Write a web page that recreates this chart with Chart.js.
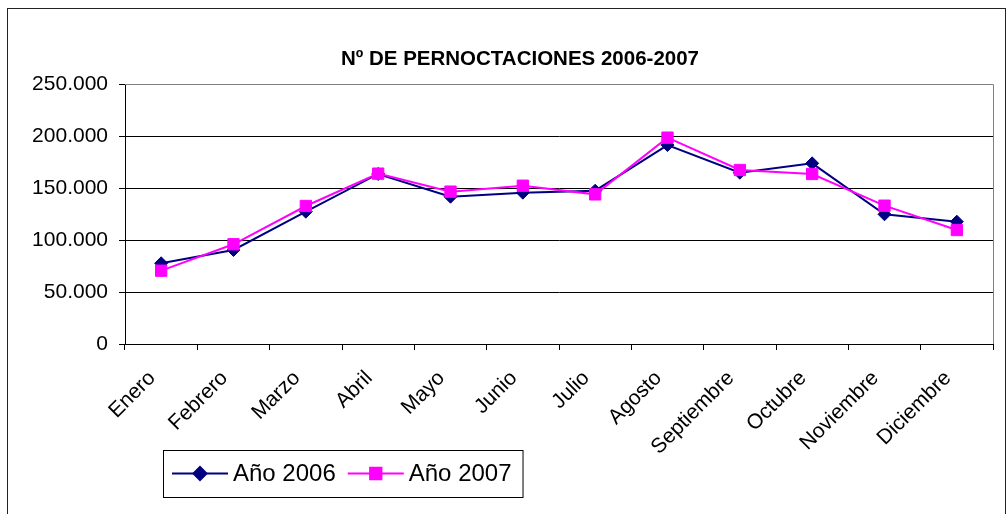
<!DOCTYPE html>
<html>
<head>
<meta charset="utf-8">
<script src="https://cdn.jsdelivr.net/npm/chart.js@4/dist/chart.umd.min.js"></script>
<style>
  html, body { margin: 0; padding: 0; width: 1006px; height: 514px; overflow: hidden; background: #fff; }
  .frame { position: absolute; left: 7px; top: 8px; width: 997px; height: 600px; border: 1px solid #222; }
  .wrap { position: absolute; left: 0; top: 0; width: 1006px; height: 514px; }
</style>
</head>
<body>
<div class="frame"></div>
<div class="wrap"><canvas id="chart" width="1006" height="514"></canvas></div>
<script>
const months = ["Enero", "Febrero", "Marzo", "Abril", "Mayo", "Junio", "Julio", "Agosto", "Septiembre", "Octubre", "Noviembre", "Diciembre"];
const ano2006 = [77600, 90400, 127200, 163500, 141600, 145500, 147400, 191300, 164700, 173700, 124700, 117600];
const ano2007 = [70500, 95900, 132700, 163800, 146500, 152200, 143900, 198400, 167300, 163500, 133000, 109600];
const titleText = "Nº DE PERNOCTACIONES 2006-2007";
const FONT = "'Liberation Sans', Arial, sans-serif";

function fmt(v) {
  return String(v).replace(/\B(?=(\d{3})+(?!\d))/g, ".");
}

// title sits a bit left of the plot centre in the original
const titleShift = {
  id: "titleShift",
  afterLayout(chart) {
    const t = chart.titleBlock;
    t.left = 34;
    t.right = 1006;
    t.width = t.right - t.left;
  }
};

// gray frame on the top and right of the plot area
const plotFrame = {
  id: "plotFrame",
  beforeDatasetsDraw(chart) {
    const a = chart.chartArea;
    const ctx = chart.ctx;
    ctx.save();
    ctx.strokeStyle = "#808080";
    ctx.lineWidth = 1;
    ctx.beginPath();
    ctx.moveTo(a.left, Math.round(a.top) + 0.5);
    ctx.lineTo(Math.round(a.right) + 0.5, Math.round(a.top) + 0.5);
    ctx.lineTo(Math.round(a.right) + 0.5, a.bottom);
    ctx.stroke();
    ctx.restore();
  }
};

// boxed legend with line + marker samples
const boxLegend = {
  id: "boxLegend",
  afterDraw(chart) {
    const ctx = chart.ctx;
    const left = 163, top = 450, h = 47;
    const cy = top + h / 2;
    ctx.save();
    ctx.font = "24px " + FONT;
    ctx.textBaseline = "middle";
    let x = left + 9;
    chart.data.datasets.forEach((ds) => {
      ctx.strokeStyle = ds.borderColor;
      ctx.lineWidth = 2;
      ctx.beginPath();
      ctx.moveTo(x, cy);
      ctx.lineTo(x + 56, cy);
      ctx.stroke();
      ctx.fillStyle = ds.pointBackgroundColor;
      ctx.strokeStyle = ds.pointBorderColor;
      Chart.helpers.drawPoint(ctx, { pointStyle: ds.pointStyle, radius: ds.pointRadius, rotation: 0, borderWidth: 1 }, x + 28, cy);
      x += 61;
      ctx.fillStyle = "#000";
      ctx.fillText(ds.label, x, cy + 1);
      x += ctx.measureText(ds.label).width + 12;
    });
    ctx.strokeStyle = "#000";
    ctx.lineWidth = 1;
    ctx.strokeRect(left + 0.5, top + 0.5, x - left - 1, h);
    ctx.restore();
  }
};

new Chart(document.getElementById("chart"), {
  type: "line",
  data: {
    labels: months,
    datasets: [
      {
        label: "Año 2006",
        data: ano2006,
        borderColor: "#000080",
        backgroundColor: "#000080",
        pointBackgroundColor: "#000080",
        pointBorderColor: "#000080",
        pointStyle: "rectRot",
        pointRadius: 6.5,
        pointBorderWidth: 1,
        borderWidth: 2,
        tension: 0,
        order: 2
      },
      {
        label: "Año 2007",
        data: ano2007,
        borderColor: "#ff00ff",
        backgroundColor: "#ff00ff",
        pointBackgroundColor: "#ff00ff",
        pointBorderColor: "#ff00ff",
        pointStyle: "rect",
        pointRadius: 8,
        pointBorderWidth: 1,
        borderWidth: 2,
        tension: 0,
        order: 1
      }
    ]
  },
  options: {
    responsive: false,
    animation: false,
    layout: { padding: { left: 15, right: 13, top: 0, bottom: 10 } },
    plugins: {
      legend: { display: false },
      tooltip: { enabled: false },
      title: {
        display: true,
        text: titleText,
        color: "#000",
        font: { family: FONT, size: 20.5, weight: "bold", lineHeight: 1.2 },
        padding: { top: 47, bottom: 12.4 }
      }
    },
    scales: {
      x: {
        offset: true,
        afterFit: (s) => { s.height = 160; },
        grid: { offset: true, drawOnChartArea: false, color: "#000", tickColor: "#000", tickLength: 6 },
        border: { color: "#000", width: 1 },
        ticks: {
          color: "#000",
          font: { family: FONT, size: 21 },
          maxRotation: 45,
          minRotation: 45,
          autoSkip: false,
          padding: 16,
          labelOffset: -9
        }
      },
      y: {
        min: 0,
        max: 250000,
        afterFit: (s) => { s.width = 110; },
        grid: {
          color: (c) => (c.tick && c.tick.value === 250000 ? "#808080" : "#000"),
          tickColor: "#000",
          tickLength: 6
        },
        border: { color: "#000", width: 1 },
        ticks: {
          stepSize: 50000,
          color: "#000",
          font: { family: FONT, size: 21 },
          padding: 11,
          callback: (v) => fmt(v)
        }
      }
    }
  },
  plugins: [titleShift, plotFrame, boxLegend]
});
</script>
</body>
</html>
